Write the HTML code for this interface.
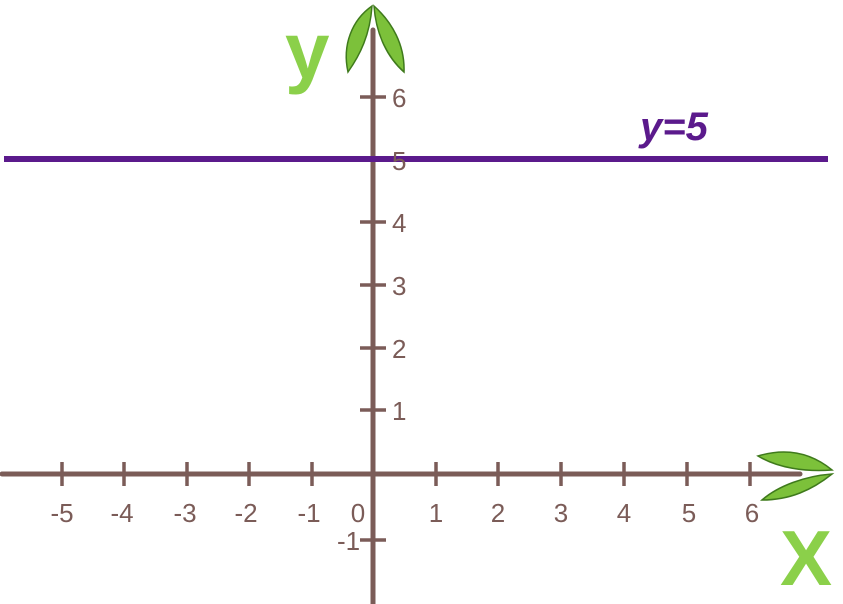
<!DOCTYPE html>
<html><head><meta charset="utf-8"><style>
html,body{margin:0;padding:0;background:#fff;}
svg{display:block;}
text{font-family:"Liberation Sans",sans-serif;}
</style></head><body>
<svg width="843" height="604" viewBox="0 0 843 604" xmlns="http://www.w3.org/2000/svg">
<g stroke="#7b5c58" stroke-width="5" stroke-linecap="round">
<line x1="373" y1="30" x2="373" y2="604"/>
<line x1="2" y1="474" x2="800" y2="474"/>
</g>
<g stroke="#7b5c58" stroke-width="3.5">
<line x1="62" y1="462" x2="62" y2="486"/><line x1="124" y1="462" x2="124" y2="486"/>
<line x1="187" y1="462" x2="187" y2="486"/><line x1="249" y1="462" x2="249" y2="486"/>
<line x1="312" y1="462" x2="312" y2="486"/><line x1="436" y1="462" x2="436" y2="486"/>
<line x1="498" y1="462" x2="498" y2="486"/><line x1="561" y1="462" x2="561" y2="486"/>
<line x1="624" y1="462" x2="624" y2="486"/><line x1="687" y1="462" x2="687" y2="486"/>
<line x1="750" y1="462" x2="750" y2="486"/>
<line x1="360" y1="97" x2="386" y2="97"/><line x1="360" y1="222" x2="386" y2="222"/>
<line x1="360" y1="285" x2="386" y2="285"/><line x1="360" y1="348" x2="386" y2="348"/>
<line x1="360" y1="410" x2="386" y2="410"/><line x1="360" y1="540" x2="386" y2="540"/>
</g>
<line x1="4" y1="159" x2="828" y2="159" stroke="#5b1a8c" stroke-width="6"/>
<g fill="#7b5c58" font-size="26">
<text x="62" y="522" text-anchor="middle">-5</text><text x="122" y="522" text-anchor="middle">-4</text>
<text x="185" y="522" text-anchor="middle">-3</text><text x="246" y="522" text-anchor="middle">-2</text>
<text x="309" y="522" text-anchor="middle">-1</text><text x="358" y="522" text-anchor="middle">0</text>
<text x="436" y="522" text-anchor="middle">1</text><text x="498" y="522" text-anchor="middle">2</text>
<text x="561" y="522" text-anchor="middle">3</text><text x="624" y="522" text-anchor="middle">4</text>
<text x="689" y="522" text-anchor="middle">5</text><text x="752" y="522" text-anchor="middle">6</text>
<text x="392" y="107">6</text><text x="392" y="170">5</text><text x="392" y="232">4</text>
<text x="392" y="295">3</text><text x="392" y="358">2</text><text x="392" y="420">1</text>
<text x="337" y="550">-1</text>
</g>
<text x="640" y="140" fill="#5b1a8c" font-size="40" font-weight="bold" font-style="italic">y=5</text>
<text x="285" y="78" fill="#8bd04a" font-size="80" font-weight="bold">y</text>
<text x="780" y="585" fill="#8bd04a" font-size="78" font-weight="bold">X</text>
<g fill="#7cc13a" stroke="#3f7a1c" stroke-width="1.5">
<path d="M372 6 C352 20 342 45 348 72 C360 55 370 35 372 6Z"/>
<path d="M374 6 C392 22 405 45 404 72 C388 58 376 35 374 6Z"/>
<path d="M832 470 C810 452 785 448 758 456 C778 468 805 472 832 470Z"/>
<path d="M832 474 C812 490 790 500 762 500 C778 486 805 476 832 474Z"/>
</g>
</svg>
</body></html>
